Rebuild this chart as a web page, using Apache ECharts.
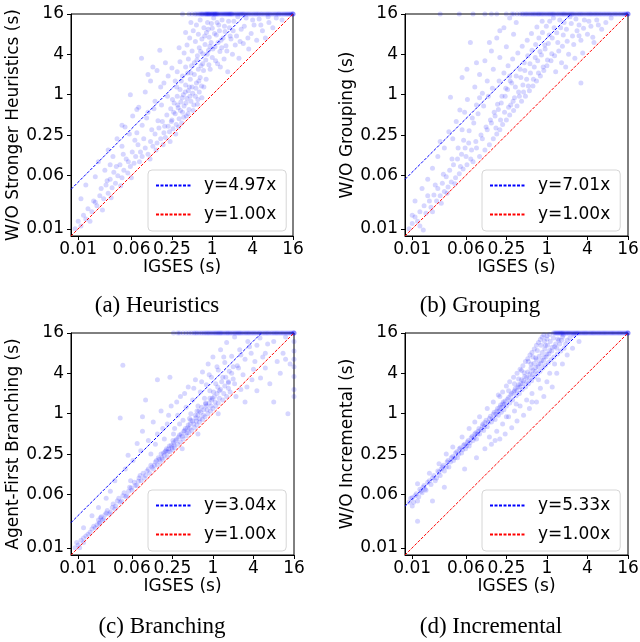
<!DOCTYPE html>
<html><head><meta charset="utf-8">
<script src="https://cdn.jsdelivr.net/npm/echarts@6/dist/echarts.min.js"></script>
<style>html,body{margin:0;padding:0;background:#fff}#c{width:640px;height:642px}</style>
</head><body><div id="c"></div>
<script>
// ---------- data ----------
const tickValues = [0.01, 0.0625, 0.25, 1, 4, 16];
const tickLabels = ['0.01', '0.06', '0.25', '1', '4', '16'];
const axisMin = 1 / 128, axisMax = 16;
const xName = 'IGSES (s)';
const yNames = ['W/O Stronger Heuristics (s)', 'W/O Grouping (s)', 'Agent-First Branching (s)', 'W/O Incremental (s)'];
const captions = ['(a) Heuristics', '(b) Grouping', '(c) Branching', '(d) Incremental'];
const slopes = [4.97, 7.01, 3.04, 5.33];

const pointsA = [
[0.009,0.010],[0.010,0.013],[0.011,0.011],[0.012,0.016],[0.013,0.014],[0.014,0.020],[0.016,0.018],[0.017,0.026],[0.019,0.022],[0.021,0.031],[0.022,0.040],[0.024,0.028],[0.026,0.045],[0.028,0.034],[0.030,0.055],[0.032,0.041],[0.034,0.070],[0.036,0.048],[0.039,0.062],[0.042,0.090],[0.045,0.058],[0.048,0.075],[0.052,0.11],[0.055,0.068],[0.060,0.085],[0.064,0.14],[0.068,0.095],[0.072,0.12],[0.078,0.18],[0.082,0.10],
[0.011,0.028],[0.013,0.045],[0.018,0.060],[0.020,0.10],[0.025,0.075],[0.028,0.15],[0.033,0.12],[0.038,0.22],[0.045,0.17],[0.050,0.33],[0.058,0.26],[0.065,0.48],[0.070,0.21],[0.080,0.65],[0.088,3.5],[0.090,0.35],[0.10,1.1],[0.11,0.55],[0.12,1.6],[0.14,0.80],[0.15,2.3],[0.165,4.6],[0.17,1.3],[0.20,3.0],[0.22,1.9],[0.13,2.6],
[0.09,0.12],[0.10,0.16],[0.11,0.13],[0.12,0.20],[0.13,0.17],[0.14,0.26],[0.15,0.19],[0.16,0.32],[0.17,0.22],[0.18,0.40],[0.19,0.27],[0.20,0.23],[0.21,0.50],[0.22,0.34],[0.23,0.28],[0.24,0.62],[0.25,0.42],[0.26,0.31],[0.27,0.75],[0.28,0.52],[0.29,0.36],[0.30,0.95],[0.31,0.64],[0.32,0.44],[0.33,1.2],[0.34,0.78],[0.35,0.38],[0.36,0.55],[0.37,1.0],[0.38,0.68],[0.40,1.4],[0.41,0.48],[0.42,0.88],[0.44,1.15],[0.45,0.60],[0.47,1.7],[0.48,0.80],[0.50,1.3],[0.52,0.58],[0.54,2.0],[0.56,0.95],[0.58,1.5],[0.60,0.72],[0.62,2.4],[0.64,1.1],[0.66,1.8],[0.70,0.90],[0.72,2.9],[0.75,1.3],
[0.28,1.6],[0.30,2.2],[0.33,3.1],[0.36,1.9],[0.38,4.2],[0.40,2.6],[0.42,5.5],[0.44,3.4],[0.46,7.0],[0.48,2.1],[0.50,4.5],[0.52,9.0],[0.54,3.0],[0.56,6.2],[0.58,11],[0.60,3.8],[0.62,8.0],[0.64,5.0],[0.66,13],[0.68,2.7],[0.70,6.8],[0.72,4.1],[0.75,10],[0.78,5.6],[0.80,3.3],[0.82,8.5],[0.85,12],[0.88,4.6],[0.90,7.2],[0.93,2.4],[0.96,6.0],[1.0,9.8],[1.0,3.6],[1.05,14],[1.1,5.2],[1.15,7.8],[1.2,2.9],[1.25,11],[1.3,4.4],[1.35,6.5],[1.4,13],[1.5,3.4],[1.55,8.8],[1.6,5.4],[1.7,2.2],[1.8,10],[1.9,6.8],[2.0,4.0],[2.1,12.5],[2.3,7.5],[2.5,3.5],[2.7,9.5],[2.9,5.8],[3.2,14],[3.5,4.8],[3.8,8.2],[4.2,11],[4.6,6.5],[5.0,13.5],[5.6,9.0],[6.2,7.0],[7.0,12],[8.0,10],[9.0,14],[11,13],
[0.015,0.013],[0.018,0.025],[0.023,0.019],[0.027,0.052],[0.031,0.029],[0.037,0.085],[0.043,0.044],[0.047,0.13],[0.056,0.10],[0.062,0.058],[0.075,0.27],[0.085,0.14],[0.095,0.22],[0.105,0.45],[0.118,0.11],[0.125,0.30],[0.135,0.62],[0.145,0.15],[0.155,0.41],[0.175,0.70],[0.185,0.18],[0.195,0.34],[0.215,0.95],[0.235,0.20],[0.245,0.40],[0.255,0.85],[0.265,0.55],[0.285,0.26],[0.295,1.3],[0.305,0.70],[0.315,0.33],[0.335,0.58],[0.345,1.6],[0.355,0.90],[0.375,0.46],[0.395,1.1],[0.405,0.75],[0.43,2.1],[0.435,0.52],[0.455,1.3],[0.465,0.95],[0.49,2.7],[0.51,1.05],[0.53,0.70],[0.57,1.25],[0.59,3.3],[0.61,0.85],[0.63,1.6],[0.67,4.4],[0.69,1.35],[0.74,2.3],[0.77,7.5],[0.81,1.7],[0.84,4.0],[0.87,9.5],[0.89,2.8],[0.92,5.3],[0.97,11.5],[1.02,4.8],[1.08,8.2],[1.12,3.2],[1.18,12],[1.22,6.0],[1.28,9.0],[1.32,2.6],[1.38,5.0],[1.45,7.0],[1.52,10.5],[1.65,4.5],[1.75,12.5],[1.85,7.5],[2.05,9.0],[2.2,5.5],[2.4,14.5],[2.6,6.2],[3.0,10.5],[3.4,7.0],[4.0,13],[5.3,11],[6.8,14.5],[0.045,0.35],[0.03,0.09],[0.06,1.0],[0.075,0.6],[0.11,2.0],[0.19,1.5],[0.25,2.5],[0.32,5],[0.4,8.5],[0.48,12],
[0.36,16],[0.45,16],[0.55,16],[0.62,16],[0.68,16],[0.72,16],[0.78,16],[0.82,16],[0.86,16],[0.9,16],[0.95,16],[1.0,16],[1.05,16],[1.1,16],[1.15,16],[1.2,16],[1.3,16],[1.4,16],[1.5,16],[1.6,16],[1.7,16],[1.8,16],[1.9,16],[2.0,16],[2.2,16],[2.4,16],[2.6,16],[2.8,16],[3.0,16],[3.3,16],[3.6,16],[4.0,16],[4.4,16],[4.8,16],[5.3,16],[5.8,16],[6.4,16],[7.0,16],[7.7,16],[8.5,16],[9.3,16],[10,16],[11,16],[12,16],[13,16],[14,16],[15,16],[16,16],
[0.5,16],[0.58,16],[0.65,16],[0.7,16],[0.75,16],[0.8,16],[0.84,16],[0.88,16],[0.92,16],[0.98,16],[1.02,16],[1.08,16],[1.12,16],[1.18,16],[1.25,16],[1.35,16],[1.45,16],[1.55,16],[1.65,16],[1.75,16],[1.85,16],[1.95,16],[2.1,16],[2.3,16],[2.5,16],[2.7,16],[2.9,16],[3.15,16],[3.45,16],[3.8,16],[4.2,16],[4.6,16],[5.0,16],[5.5,16],[6.1,16],[6.7,16],[7.3,16],[8.1,16],[8.9,16],[9.7,16],[10.5,16],[11.5,16],[12.5,16],[13.5,16],[14.5,16],[15.5,16],[16,16],[16,16]
];

const pointsB = [
[0.009,0.010],[0.010,0.012],[0.011,0.015],[0.012,0.013],[0.013,0.018],[0.0146,0.0096],[0.015,0.022],[0.016,0.017],[0.018,0.026],[0.019,0.021],[0.021,0.032],[0.023,0.026],[0.024,0.040],[0.026,0.031],[0.028,0.048],[0.030,0.036],[0.032,0.060],[0.034,0.042],[0.036,0.075],[0.038,0.050],[0.041,0.090],[0.044,0.058],[0.047,0.11],[0.050,0.066],[0.054,0.13],[0.057,0.078],[0.061,0.16],[0.065,0.09],[0.069,0.19],[0.074,0.11],
[0.011,0.026],[0.014,0.040],[0.017,0.055],[0.020,0.08],[0.024,0.12],[0.026,0.20],[0.030,0.16],[0.035,0.28],[0.037,0.92],[0.040,0.22],[0.045,0.40],[0.051,0.59],[0.055,0.30],[0.060,0.55],[0.066,0.85],[0.073,6.0],[0.078,0.45],[0.085,1.3],[0.09,0.70],[0.10,2.0],[0.11,1.05],[0.12,3.2],[0.13,1.6],[0.15,4.5],[0.16,2.4],[0.18,7.0],[0.20,3.6],[0.23,10],[0.25,5.2],[0.28,14],[0.32,8.0],
[0.08,0.10],[0.09,0.16],[0.10,0.12],[0.11,0.22],[0.12,0.15],[0.13,0.30],[0.14,0.18],[0.15,0.38],[0.16,0.22],[0.17,0.48],[0.18,0.26],[0.19,0.60],[0.20,0.30],[0.21,0.75],[0.22,0.36],[0.24,0.95],[0.25,0.42],[0.26,1.2],[0.28,0.50],[0.29,0.70],[0.30,1.5],[0.32,0.58],[0.33,0.90],[0.35,1.9],[0.36,0.68],[0.38,1.1],[0.40,2.4],[0.42,0.80],[0.44,1.4],[0.46,3.0],[0.48,0.95],[0.50,1.7],[0.52,3.8],[0.55,1.15],[0.57,2.1],[0.60,4.6],[0.62,1.35],[0.65,2.6],[0.68,5.6],[0.70,1.6],[0.73,3.2],[0.76,7.0],[0.80,1.9],[0.83,3.9],[0.86,8.5],[0.90,2.3],[0.94,4.8],[0.98,10.5],[1.0,2.7],[1.05,5.8],[1.1,12.5],[1.15,3.2],[1.2,7.0],[1.25,14],[1.3,3.8],[1.4,8.4],[1.5,4.5],[1.6,10],[1.7,5.3],[1.8,12],[1.9,2.6],[2.0,6.3],[2.2,14.5],[2.4,7.5],[2.6,3.5],[2.8,9.0],[3.0,11],[3.2,6.5],[3.2,1.5],[3.4,4.2],[3.6,13],[4.0,8.0],[4.5,10.5],[5.0,6.0],[5.5,13],[6.5,9.5],[7.5,12],[9,14],
[0.010,0.016],[0.013,0.011],[0.017,0.031],[0.020,0.018],[0.022,0.045],[0.027,0.024],[0.029,0.065],[0.033,0.034],[0.039,0.11],[0.043,0.047],[0.048,0.16],[0.052,0.085],[0.058,0.21],[0.063,0.12],[0.07,0.29],[0.076,0.15],[0.082,0.38],[0.088,0.20],[0.095,0.52],[0.105,0.25],[0.115,0.68],[0.125,0.33],[0.135,0.95],[0.145,0.42],[0.155,1.25],[0.165,0.55],[0.175,0.32],[0.185,0.72],[0.195,1.6],[0.205,0.42],[0.215,0.95],[0.23,2.1],[0.235,0.55],[0.245,1.25],[0.265,2.7],[0.27,0.65],[0.285,1.6],[0.31,3.4],[0.315,0.80],[0.34,1.3],[0.37,4.2],[0.39,0.95],[0.41,1.8],[0.43,5.3],[0.45,1.1],[0.47,2.3],[0.51,6.5],[0.53,1.35],[0.56,2.9],[0.59,8.2],[0.63,1.7],[0.67,3.6],[0.71,10.2],[0.75,2.1],[0.79,4.4],[0.85,12.5],[0.88,2.6],[0.93,5.5],[1.02,3.3],[1.08,7.8],[1.18,4.1],[1.28,10],[1.35,2.2],[1.45,6.0],[1.55,13],[1.65,3.0],[1.75,7.8],[1.95,9.5],[2.1,4.0],[2.3,11.5],[2.5,5.6],[2.7,13.5],[3.0,7.6],[3.5,9.8],[4.2,12.5],[4.8,7.2],[5.8,11],[0.055,1.8],[0.09,3.0],[0.065,2.4],[0.1,0.9],[0.14,6],[0.2,9],[0.35,12],[0.28,1.9],
[0.026,16],[0.05,16],[0.08,16],[0.12,16],[0.18,16],[0.25,16],[0.32,16],[0.40,16],[0.45,16],[0.50,16],[0.56,16],[0.62,16],[0.68,16],[0.75,16],[0.82,16],[0.9,16],[1.0,16],[1.1,16],[1.2,16],[1.3,16],[1.45,16],[1.6,16],[1.75,16],[1.9,16],[2.1,16],[2.3,16],[2.5,16],[2.8,16],[3.1,16],[3.4,16],[3.8,16],[4.2,16],[4.6,16],[5.1,16],[5.6,16],[6.2,16],[6.9,16],[7.6,16],[8.4,16],[9.3,16],[10.3,16],[11.4,16],[12.6,16],[14,16],[15,16],[16,16],
[0.15,16],[0.3,16],[0.36,16],[0.43,16],[0.48,16],[0.53,16],[0.59,16],[0.65,16],[0.72,16],[0.78,16],[0.86,16],[0.95,16],[1.05,16],[1.15,16],[1.25,16],[1.38,16],[1.52,16],[1.68,16],[1.82,16],[2.0,16],[2.2,16],[2.4,16],[2.65,16],[2.95,16],[3.25,16],[3.6,16],[4.0,16],[4.4,16],[4.85,16],[5.35,16],[5.9,16],[6.5,16],[7.2,16],[8.0,16],[8.8,16],[9.8,16],[10.8,16],[12,16],[13.3,16],[14.5,16],[15.5,16],[16,16],[16,16]
];

const pointsC = [
[0.009,0.010],[0.010,0.011],[0.011,0.013],[0.012,0.012],[0.013,0.015],[0.015,0.017],[0.017,0.021],[0.019,0.022],[0.020,0.026],[0.021,0.024],[0.022,0.029],[0.023,0.026],[0.025,0.031],[0.027,0.036],[0.030,0.034],[0.033,0.045],[0.036,0.042],[0.040,0.055],[0.044,0.050],[0.048,0.066],[0.053,0.060],[0.058,0.080],[0.063,0.072],[0.068,0.095],[0.074,0.085],[0.080,0.11],[0.086,0.10],[0.092,0.13],[0.10,0.12],[0.11,0.15],[0.115,0.13],[0.12,0.17],[0.13,0.15],[0.14,0.19],[0.15,0.17],[0.16,0.21],[0.165,0.19],[0.17,0.25],[0.18,0.21],[0.19,0.24],[0.20,0.28],[0.21,0.23],[0.22,0.30],[0.23,0.27],[0.24,0.34],[0.25,0.29],[0.26,0.37],[0.27,0.31],[0.28,0.40],[0.30,0.35],[0.31,0.45],[0.33,0.38],[0.34,0.50],[0.36,0.42],[0.38,0.56],[0.40,0.47],[0.42,0.62],[0.44,0.52],[0.46,0.70],[0.48,0.56],[0.50,0.78],[0.53,0.62],[0.56,0.86],[0.58,0.68],[0.60,0.95],[0.63,0.75],[0.66,1.05],[0.70,0.82],[0.73,1.15],[0.76,0.90],[0.80,1.3],[0.84,1.0],[0.88,1.45],[0.92,1.1],[0.96,1.6],[1.0,1.2],[1.05,1.8],[1.1,1.3],[1.15,2.0],[1.2,1.45],[1.3,2.3],[1.4,1.6],[1.5,2.6],[1.6,1.8],[1.7,2.9],[1.8,2.1],[2.0,3.3],
[0.012,0.020],[0.016,0.030],[0.020,0.040],[0.026,0.055],[0.030,0.070],[0.035,0.10],[0.042,0.86],[0.046,5.3],[0.050,0.15],[0.055,0.24],[0.065,0.20],[0.075,0.36],[0.085,0.28],[0.09,0.55],[0.10,1.6],[0.11,0.40],[0.13,0.75],[0.15,0.50],[0.17,1.1],[0.19,0.42],[0.21,0.70],[0.23,3.5],[0.24,1.3],[0.27,0.60],[0.30,0.95],[0.33,1.8],[0.36,0.80],[0.40,1.25],[0.43,2.5],[0.47,1.0],[0.50,1.6],[0.55,3.2],[0.60,1.3],[0.65,2.1],[0.70,4.2],[0.75,1.7],[0.80,2.7],[0.85,5.5],[0.90,2.2],[0.95,3.5],[1.0,7.0],[1.1,2.8],[1.2,4.5],[1.3,9.0],[1.4,3.5],[1.5,5.8],[1.6,11.5],[1.75,4.3],[1.9,7.2],[2.1,14],[2.3,5.2],[2.5,9.0],[2.8,3.8],[3.0,6.5],[3.3,12],[3.7,8.0],[4.0,4.6],[4.5,10.5],[5.0,13.5],[5.5,7.0],[6.5,11],
[0.35,0.30],[0.6,0.5],[1.2,1.0],[2.2,1.8],[2.6,2.3],[3.2,2.5],[3.8,3.2],[4.5,2.2],[5.1,3.4],[6.0,4.8],[7.0,2.8],[8.0,1.5],[9.0,6.0],[10,4.0],[11,8.0],[13,1.0],[14,5.5],[16,2.3],[16,3.6],[16,5.0],[16,8.6],[16,12],
[0.0095,0.012],[0.0105,0.010],[0.012,0.014],[0.014,0.016],[0.016,0.019],[0.018,0.020],[0.0205,0.023],[0.0215,0.028],[0.024,0.027],[0.026,0.033],[0.029,0.032],[0.032,0.040],[0.035,0.038],[0.038,0.050],[0.042,0.048],[0.046,0.060],[0.051,0.058],[0.056,0.070],[0.061,0.078],[0.07,0.085],[0.078,0.098],[0.083,0.12],[0.096,0.11],[0.105,0.14],[0.125,0.16],[0.135,0.17],[0.145,0.20],[0.155,0.22],[0.175,0.22],[0.185,0.26],[0.195,0.27],[0.205,0.30],[0.215,0.27],[0.225,0.33],[0.245,0.31],[0.255,0.40],[0.265,0.34],[0.29,0.42],[0.32,0.48],[0.35,0.46],[0.37,0.55],[0.39,0.60],[0.41,0.52],[0.43,0.68],[0.45,0.60],[0.47,0.80],[0.52,0.70],[0.55,0.95],[0.57,0.78],[0.62,1.1],[0.64,0.84],[0.68,1.25],[0.72,0.95],[0.78,1.45],[0.82,1.15],[0.9,1.7],[0.94,1.3],[1.02,2.1],[1.08,1.5],[1.18,2.5],[1.25,1.7],[1.35,3.0],[1.45,2.0],[1.55,3.5],[1.7,2.4],[1.9,4.0],[2.1,2.8],[2.4,4.8],
[0.14,0.35],[0.18,0.60],[0.22,0.95],[0.26,0.50],[0.29,1.5],[0.32,0.70],[0.38,2.0],[0.45,0.85],[0.52,2.4],[0.58,1.1],[0.68,3.0],[0.78,1.4],[0.88,3.8],[0.98,1.7],[1.15,5.0],[1.25,2.2],[1.45,7.0],[1.7,3.0],[2.0,5.0],[2.6,7.5],[3.5,10],[4.2,6.0],[6.0,8.0],[8,12],[12,6.5],[12,14],[16,1.8],[16,6.5],[3,1.5],[0.09,0.9],[0.12,0.25],[0.15,3.2],[0.06,0.1],
[0.26,16],[0.32,16],[0.4,16],[0.48,16],[0.55,16],[0.62,16],[0.7,16],[0.78,16],[0.86,16],[0.95,16],[1.05,16],[1.15,16],[1.25,16],[1.35,16],[1.5,16],[1.65,16],[1.8,16],[2.0,16],[2.2,16],[2.4,16],[2.6,16],[2.9,16],[3.2,16],[3.5,16],[3.9,16],[4.3,16],[4.8,16],[5.3,16],[5.9,16],[6.5,16],[7.2,16],[8,16],[8.8,16],[9.7,16],[10.7,16],[11.8,16],[13,16],[14.3,16],[15.5,16],[16,16],
[0.3,16],[0.36,16],[0.44,16],[0.52,16],[0.58,16],[0.66,16],[0.74,16],[0.82,16],[0.9,16],[1.0,16],[1.1,16],[1.2,16],[1.3,16],[1.42,16],[1.58,16],[1.72,16],[1.9,16],[2.1,16],[2.3,16],[2.5,16],[2.75,16],[3.05,16],[3.35,16],[3.7,16],[4.1,16],[4.55,16],[5.0,16],[5.6,16],[6.2,16],[6.8,16],[7.6,16],[8.4,16],[9.2,16],[10.2,16],[11.2,16],[12.4,16],[13.6,16],[14.8,16],[16,16],[16,16]
];

const pointsD = [
[0.009,0.048],[0.010,0.042],[0.010,0.056],[0.011,0.060],[0.012,0.050],[0.013,0.075],[0.014,0.066],[0.015,0.085],[0.016,0.072],[0.017,0.095],[0.019,0.088],[0.020,0.11],[0.022,0.10],[0.024,0.14],[0.026,0.12],[0.028,0.16],[0.030,0.14],[0.033,0.19],[0.035,0.16],[0.038,0.22],[0.041,0.20],[0.044,0.26],[0.047,0.22],[0.050,0.30],[0.054,0.26],[0.058,0.34],[0.062,0.30],[0.066,0.38],[0.070,0.33],[0.075,0.44],[0.080,0.40],[0.085,0.50],[0.090,0.42],[0.095,0.55],[0.10,0.50],[0.11,0.66],[0.115,0.56],[0.12,0.74],[0.13,0.64],[0.14,0.85],[0.15,0.75],[0.16,0.98],[0.17,0.82],[0.18,1.1],[0.19,0.95],[0.20,1.25],[0.21,1.05],[0.22,1.4],[0.23,1.15],[0.24,1.55],[0.25,1.3],[0.27,1.75],[0.28,1.45],[0.30,2.0],[0.31,1.6],[0.33,2.2],[0.35,1.85],[0.37,2.5],[0.39,2.0],[0.41,2.8],[0.43,2.3],[0.45,3.1],[0.48,2.5],[0.50,3.5],[0.53,2.8],[0.56,3.9],[0.59,3.1],[0.62,4.4],[0.65,3.5],[0.68,4.9],[0.72,3.9],[0.75,5.5],[0.79,4.3],[0.83,6.2],[0.87,4.8],[0.91,7.0],[0.95,5.3],[1.0,7.8],[1.05,5.8],[1.1,8.8],[1.15,6.4],[1.2,9.8],[1.27,7.0],[1.35,11],[1.43,7.8],[1.5,12.5],[1.6,8.6],[1.7,14],[1.8,9.5],[1.9,11],[2.0,12.5],[2.2,13.5],[2.5,15],
[0.012,0.09],[0.018,0.13],[0.025,0.18],[0.032,0.25],[0.04,0.32],[0.055,0.45],[0.07,0.6],[0.085,0.75],[0.10,0.9],[0.13,1.2],[0.16,1.5],[0.19,1.9],[0.22,2.1],[0.25,2.6],[0.28,3.0],[0.32,3.5],[0.36,4.0],[0.40,4.6],[0.44,5.2],[0.48,6.0],[0.52,6.6],[0.56,7.5],[0.60,8.2],[0.65,9.2],[0.70,10.5],[0.75,11.5],[0.80,12.8],[0.85,14],[0.90,15],[0.95,10.5],[1.0,13],[1.1,15.2],[0.68,6.8],[0.58,5.5],[0.46,4.1],[0.38,3.3],
[0.012,0.025],[0.02,0.05],[0.06,0.15],[0.09,0.22],[0.12,0.3],[0.15,0.35],[0.18,0.55],[0.2,0.42],[0.22,0.7],[0.24,0.5],[0.27,0.9],[0.3,0.62],[0.33,1.1],[0.36,0.78],[0.4,1.3],[0.45,0.95],[0.5,1.6],[0.55,1.2],[0.6,2.0],[0.7,1.5],[0.8,2.4],[0.9,1.8],[1.0,3.0],[1.2,2.5],[1.4,4.0],[1.7,5.5],[2.0,7.5],[2.4,9.5],[3.0,12],
[0.0095,0.055],[0.0105,0.048],[0.0115,0.064],[0.0125,0.058],[0.0135,0.07],[0.0145,0.08],[0.0155,0.075],[0.018,0.1],[0.021,0.12],[0.023,0.11],[0.025,0.135],[0.027,0.15],[0.029,0.17],[0.032,0.16],[0.034,0.2],[0.037,0.19],[0.040,0.23],[0.043,0.22],[0.046,0.27],[0.049,0.25],[0.052,0.31],[0.056,0.29],[0.060,0.35],[0.064,0.33],[0.068,0.4],[0.072,0.37],[0.078,0.46],[0.083,0.44],[0.088,0.52],[0.093,0.5],[0.098,0.6],[0.105,0.58],[0.112,0.7],[0.118,0.64],[0.125,0.8],[0.135,0.74],[0.145,0.92],[0.155,0.84],[0.165,1.05],[0.175,0.98],[0.185,1.2],[0.195,1.1],[0.205,1.35],[0.215,1.25],[0.225,1.5],[0.235,1.4],[0.26,1.65],[0.29,1.9],[0.32,2.1],[0.34,2.4],[0.36,2.2],[0.38,2.7],[0.4,2.5],[0.42,3.2],[0.44,2.8],[0.47,3.6],[0.5,3.0],[0.52,4.2],[0.55,3.4],[0.58,4.8],[0.61,3.8],[0.64,5.6],[0.67,4.3],[0.7,6.4],[0.74,5.0],[0.77,7.2],[0.81,5.6],[0.85,8.2],[0.89,6.2],[0.93,9.2],[0.97,7.0],[1.02,10.5],[1.07,7.8],[1.12,12],[1.18,8.6],[1.25,13.5],[1.3,10],[1.4,9.5],[1.45,13],[1.55,11],[1.65,12.5],[1.75,15],[0.53,6.0],[0.62,7.0],[0.72,8.8],[0.82,10.5],[0.92,12.2],[1.0,14.5],[0.42,4.4],[0.33,2.8],[0.2,1.8],[0.27,2.2],[0.14,0.45],[0.25,0.9],[0.35,1.4],[0.6,1.5],[0.75,3.2],[1.1,4.0],[1.3,5.5],[0.17,0.4],[0.03,0.08],
[1.25,16],[1.35,16],[1.45,16],[1.55,16],[1.65,16],[1.75,16],[1.9,16],[2.05,16],[2.2,16],[2.4,16],[2.6,16],[2.8,16],[3.0,16],[3.3,16],[3.6,16],[3.9,16],[4.3,16],[4.7,16],[5.1,16],[5.6,16],[6.1,16],[6.7,16],[7.3,16],[8.0,16],[8.8,16],[9.6,16],[10.5,16],[11.5,16],[12.5,16],[13.7,16],[15,16],[16,16],
[1.3,16],[1.4,16],[1.5,16],[1.6,16],[1.7,16],[1.82,16],[1.97,16],[2.12,16],[2.3,16],[2.5,16],[2.7,16],[2.9,16],[3.15,16],[3.45,16],[3.75,16],[4.1,16],[4.5,16],[4.9,16],[5.35,16],[5.85,16],[6.4,16],[7.0,16],[7.65,16],[8.4,16],[9.2,16],[10,16],[11,16],[12,16],[13.1,16],[14.3,16],[15.5,16],[16,16],[16,16]
];
const panelPoints = [pointsA, pointsB, pointsC, pointsD];

// ---------- layout ----------
const grids = [
  {left: 71, top: 14, width: 222, height: 222},
  {left: 405, top: 14, width: 223, height: 222},
  {left: 71, top: 333, width: 223, height: 222},
  {left: 405, top: 333, width: 223, height: 222}
];
const yNameGaps = [49, 45, 46, 45];
const legendPos = [{left: 148, top: 170}, {left: 482, top: 170}, {left: 148, top: 490}, {left: 482, top: 490}];
const captionPos = [[157, 306], [480, 306], [162, 627], [491, 627]];
const FONT = 'DejaVu Sans';

function fmt(v) {
  for (let i = 0; i < tickValues.length; i++) {
    if (Math.abs(Math.log2(tickValues[i]) - Math.log2(v)) < 0.02) return tickLabels[i];
  }
  return '';
}

function axisCommon(i) {
  return {
    type: 'log', logBase: 2, min: axisMin, max: axisMax, gridIndex: i,
    axisLine: {show: true, onZero: false, lineStyle: {color: '#000', width: 1}},
    axisTick: {show: true, customValues: tickValues, length: 4, inside: false, lineStyle: {color: '#000', width: 1}},
    axisLabel: {show: true, customValues: tickValues, formatter: fmt, fontSize: 17, color: '#000', fontFamily: FONT, hideOverlap: false, showMinLabel: true, showMaxLabel: true},
    splitLine: {show: false}, minorTick: {show: false}, minorSplitLine: {show: false},
    nameLocation: 'middle',
    nameTextStyle: {fontSize: 17, color: '#000', fontFamily: FONT}
  };
}

const xAxis = [], yAxis = [], series = [], legend = [], graphic = [];
grids.forEach((g, i) => {
  const xa = axisCommon(i);
  xa.name = xName; xa.nameGap = 21; xa.axisLabel.margin = 5;
  xAxis.push(xa);
  const ya = axisCommon(i);
  ya.name = yNames[i]; ya.nameGap = yNameGaps[i]; ya.axisLabel.margin = 7;
  yAxis.push(ya);
  series.push({
    type: 'scatter', xAxisIndex: i, yAxisIndex: i, data: panelPoints[i],
    symbolSize: 5, itemStyle: {color: 'rgba(0,0,255,0.2)'}, silent: true, z: 2
  });
  const k = slopes[i];
  const bName = 'y=' + k.toFixed(2) + 'x';
  series.push({
    type: 'line', name: bName, xAxisIndex: i, yAxisIndex: i,
    data: [[axisMin, k * axisMin], [axisMax / k, axisMax]],
    symbol: 'none', showSymbol: false, silent: true, z: 3,
    lineStyle: {color: '#0000ff', width: 1, type: [3, 1.5]}, itemStyle: {color: '#0000ff'}
  });
  series.push({
    type: 'line', name: 'y=1.00x', xAxisIndex: i, yAxisIndex: i,
    data: [[axisMin, axisMin], [axisMax, axisMax]],
    symbol: 'none', showSymbol: false, silent: true, z: 3,
    lineStyle: {color: '#ff0000', width: 1, type: [3, 1.5]}, itemStyle: {color: '#ff0000'}
  });
  legend.push({
    data: [bName, 'y=1.00x'], orient: 'vertical', left: legendPos[i].left, top: legendPos[i].top,
    itemWidth: 35, itemHeight: 14, itemGap: 12, selectedMode: false,
    itemStyle: {opacity: 0},
    padding: [7, 10, 8, 7], borderColor: '#d6d6d6', borderWidth: 1, borderRadius: 4,
    backgroundColor: 'rgba(255,255,255,0.85)',
    textStyle: {fontSize: 17, color: '#000', fontFamily: FONT, padding: [0, 0, 0, 8]}
  });
  graphic.push({
    type: 'text', x: captionPos[i][0], y: captionPos[i][1],
    style: {text: captions[i], fill: '#000', font: '23px "Liberation Serif"', textAlign: 'center', textVerticalAlign: 'middle'}
  });
});

const chart = echarts.init(document.getElementById('c'), null, {renderer: 'canvas'});
chart.setOption({
  animation: false,
  backgroundColor: '#fff',
  grid: grids.map(g => Object.assign({show: true, borderColor: '#000', borderWidth: 1, backgroundColor: 'transparent', containLabel: false, outerBoundsMode: 'none'}, g)),
  xAxis, yAxis, series, legend, graphic
});
</script>
</body></html>
